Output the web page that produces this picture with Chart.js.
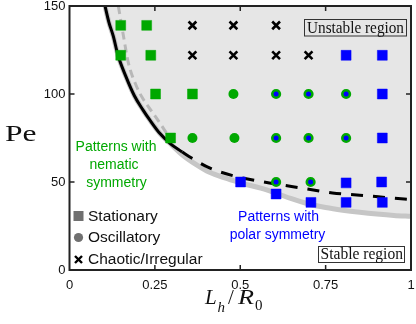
<!DOCTYPE html>
<html>
<head>
<meta charset="utf-8">
<script src="https://cdn.jsdelivr.net/npm/chart.js@4"></script>
<style>
  html, body { margin: 0; padding: 0; background: #fff; }
  #wrap { width: 416px; height: 324px; }
</style>
</head>
<body>
<div id="wrap"><canvas id="phaseChart" width="416" height="324"></canvas></div>
<script>
// Phase diagram Pe vs L_h/R_0
const xTicks = [0, 0.25, 0.5, 0.75, 1];
const yTicks = [0, 50, 100, 150];

// simulation markers
const nematicSqX = [0.15, 0.226, 0.15, 0.238, 0.252, 0.36, 0.296];
const nematicSqY = [139, 139, 122, 122, 100, 100, 75];
const nematicOscX = [0.48, 0.36, 0.483];
const nematicOscY = [100, 75, 75];
const mixedOscX = [0.605, 0.70, 0.81, 0.605, 0.70, 0.81, 0.605, 0.706];
const mixedOscY = [100, 100, 100, 75, 75, 75, 50, 50];
const chaoticX = [0.36, 0.48, 0.605, 0.36, 0.48, 0.605, 0.70];
const chaoticY = [139, 139, 139, 122, 122, 122, 122];
const polarSqX = [0.81, 0.916, 0.916, 0.916, 0.501, 0.81, 0.914, 0.605, 0.707, 0.81, 0.916];
const polarSqY = [122, 122, 100, 75, 50, 49.5, 50, 43.2, 38.4, 38.4, 38.4];

// stability curves
const blackSolidX = [0.104, 0.115, 0.128, 0.142, 0.165, 0.19, 0.215, 0.236, 0.265, 0.294, 0.33];
const blackSolidY = [150, 141, 133, 122, 110, 99, 91, 85, 77.5, 72, 67];
const blackDashX = [0.33, 0.35, 0.41, 0.48, 0.56, 0.65, 0.77, 0.85, 0.98, 1.0];
const blackDashY = [67, 64.5, 58, 53.5, 50.3, 47.5, 43.8, 42.5, 40.3, 40];
const grayDashX = [0.143, 0.158, 0.172, 0.197, 0.216, 0.245, 0.275, 0.29];
const grayDashY = [150, 133, 118, 104, 97, 89, 80.5, 76];
const graySolidX = [0.104, 0.115, 0.128, 0.142, 0.165, 0.19, 0.215, 0.236, 0.265, 0.294, 0.33, 0.37, 0.41, 0.46, 0.5, 0.56, 0.6, 0.65, 0.7, 0.75, 0.8, 0.85, 0.9, 0.95, 1.0];
const graySolidY = [150, 141, 133, 122, 110, 99, 91, 85, 77.5, 72, 65.5, 60, 55.5, 52, 49.5, 46.5, 44, 40.5, 37.5, 35.5, 34, 32.8, 31.8, 31, 30.5];

const GREEN = '#00a800';
const BLUE = '#0000ff';

function pts(xs, ys) {
    return xs.map((v, i) => ({ x: v, y: ys[i] }));
}

function fitText(ctx, text, x, y, width) {
    const w = ctx.measureText(text).width;
    ctx.save();
    ctx.translate(x, y);
    ctx.scale(width / w, 1);
    ctx.fillText(text, 0, 0);
    ctx.restore();
}

const frame = {
    id: 'frame',
    afterDraw(chart) {
        const { ctx, chartArea: a, scales: { x, y } } = chart;
        ctx.save();
        // axes box
        ctx.strokeStyle = '#222';
        ctx.lineWidth = 2;
        ctx.strokeRect(a.left, a.top, a.right - a.left, a.bottom - a.top);
        // inward ticks
        ctx.lineWidth = 1.5;
        ctx.beginPath();
        xTicks.slice(1, -1).forEach(v => {
            const px = x.getPixelForValue(v);
            ctx.moveTo(px, a.bottom); ctx.lineTo(px, a.bottom - 5);
            ctx.moveTo(px, a.top); ctx.lineTo(px, a.top + 5);
        });
        yTicks.slice(1, -1).forEach(v => {
            const py = y.getPixelForValue(v);
            ctx.moveTo(a.left, py); ctx.lineTo(a.left + 5, py);
            ctx.moveTo(a.right, py); ctx.lineTo(a.right - 5, py);
        });
        ctx.stroke();

        // region boxes
        ctx.fillStyle = '#111';
        ctx.strokeStyle = '#333';
        ctx.lineWidth = 1;
        ctx.font = '16px "Liberation Serif"';
        ctx.textBaseline = 'alphabetic';
        ctx.strokeRect(304.5, 19.5, 102, 16.5);
        fitText(ctx, 'Unstable region', 307, 32.5, 97);
        ctx.strokeRect(318.5, 246.5, 86, 16);
        fitText(ctx, 'Stable region', 320.5, 258.5, 82.5);

        // annotations
        ctx.textAlign = 'center';
        ctx.textBaseline = 'middle';
        ctx.font = '14px "Liberation Sans"';
        ctx.fillStyle = GREEN;
        ctx.fillText('Patterns with', 116, 147);
        ctx.fillText('nematic', 114, 165);
        ctx.fillText('symmetry', 116.5, 183);
        ctx.fillStyle = BLUE;
        ctx.fillText('Patterns with', 278.5, 217);
        ctx.fillText('polar symmetry', 277.5, 235);

        // legend
        ctx.textAlign = 'left';
        ctx.font = '15.5px "Liberation Sans"';
        ctx.fillStyle = '#707070';
        ctx.fillRect(73.5, 211, 10, 10);
        ctx.beginPath();
        ctx.arc(78.5, 237.5, 4.6, 0, Math.PI * 2);
        ctx.fill();
        ctx.strokeStyle = '#000';
        ctx.lineWidth = 2.4;
        ctx.beginPath();
        ctx.moveTo(75, 256); ctx.lineTo(82, 263);
        ctx.moveTo(82, 256); ctx.lineTo(75, 263);
        ctx.stroke();
        ctx.fillStyle = '#111';
        ctx.fillText('Stationary', 88, 216.5);
        ctx.fillText('Oscillatory', 88, 238);
        ctx.fillText('Chaotic/Irregular', 88, 260);

        // axis titles
        ctx.textBaseline = 'alphabetic';
        ctx.font = '23px "Liberation Serif"';
        fitText(ctx, 'Pe', 5, 140.5, 31.5);
        ctx.font = 'italic 21px "Liberation Serif"';
        ctx.fillText('L', 205, 303.5);
        fitText(ctx, 'R', 238, 303.5, 16);
        ctx.font = '21px "Liberation Serif"';
        ctx.fillText('/', 228, 303.5);
        ctx.font = 'italic 15px "Liberation Serif"';
        ctx.fillText('h', 217.5, 311.5);
        ctx.font = '15px "Liberation Serif"';
        ctx.fillText('0', 255, 310);
        ctx.restore();
    }
};

const lineDs = (xs, ys, color, width, dash, order, extra) => Object.assign({
    type: 'line',
    data: pts(xs, ys),
    borderColor: color,
    borderWidth: width,
    borderDash: dash,
    pointRadius: 0,
    fill: false,
    cubicInterpolationMode: 'monotone',
    order: order
}, extra || {});

const markerDs = (xs, ys, style, radius, bg, border, bw, order) => ({
    type: 'scatter',
    data: pts(xs, ys),
    pointStyle: style,
    pointRadius: radius,
    backgroundColor: bg,
    borderColor: border,
    borderWidth: bw,
    order: order
});

new Chart(document.getElementById('phaseChart'), {
    type: 'scatter',
    data: {
        datasets: [
            lineDs(graySolidX, graySolidY, '#c6c6c6', 5, [], 20, { fill: 'end', backgroundColor: '#e6e6e6' }),
            lineDs(grayDashX, grayDashY, '#b8b8b8', 3, [8, 5], 19),
            lineDs(blackSolidX, blackSolidY, '#000', 3, [], 18),
            lineDs(blackDashX, blackDashY, '#000', 3, [12, 10], 17),
            markerDs(nematicSqX, nematicSqY, 'rect', 7, GREEN, GREEN, 0.5, 5),
            markerDs(nematicOscX, nematicOscY, 'circle', 5, GREEN, GREEN, 0, 4),
            markerDs(mixedOscX, mixedOscY, 'circle', 3.8, BLUE, GREEN, 2.6, 3),
            markerDs(chaoticX, chaoticY, 'crossRot', 5.5, '#000', '#000', 2.6, 2),
            markerDs(polarSqX, polarSqY, 'rect', 7, BLUE, BLUE, 0.5, 1)
        ]
    },
    options: {
        responsive: false,
        animation: false,
        devicePixelRatio: 1,
        events: [],
        layout: { autoPadding: false, padding: { top: 6, right: 5, left: 0, bottom: 0 } },
        plugins: { legend: { display: false }, tooltip: { enabled: false } },
        scales: {
            x: {
                type: 'linear',
                min: 0,
                max: 1,
                afterFit: s => { s.height = 54; s.paddingLeft = 0; s.paddingRight = 0; },
                afterBuildTicks: s => { s.ticks = xTicks.map(v => ({ value: v })); },
                grid: { display: false, drawTicks: false },
                border: { display: false },
                ticks: {
                    padding: 8, color: '#111', font: { family: 'Liberation Sans', size: 13 },
                    callback: v => String(v)
                }
            },
            y: {
                type: 'linear',
                min: 0,
                max: 150,
                afterFit: s => { s.width = 69.5; s.paddingTop = 0; s.paddingBottom = 0; },
                afterBuildTicks: s => { s.ticks = yTicks.map(v => ({ value: v })); },
                grid: { display: false, drawTicks: false },
                border: { display: false },
                ticks: {
                    padding: 4, color: '#111', font: { family: 'Liberation Sans', size: 13 },
                    callback: v => String(v)
                }
            }
        }
    },
    plugins: [frame]
});
</script>
</body>
</html>
